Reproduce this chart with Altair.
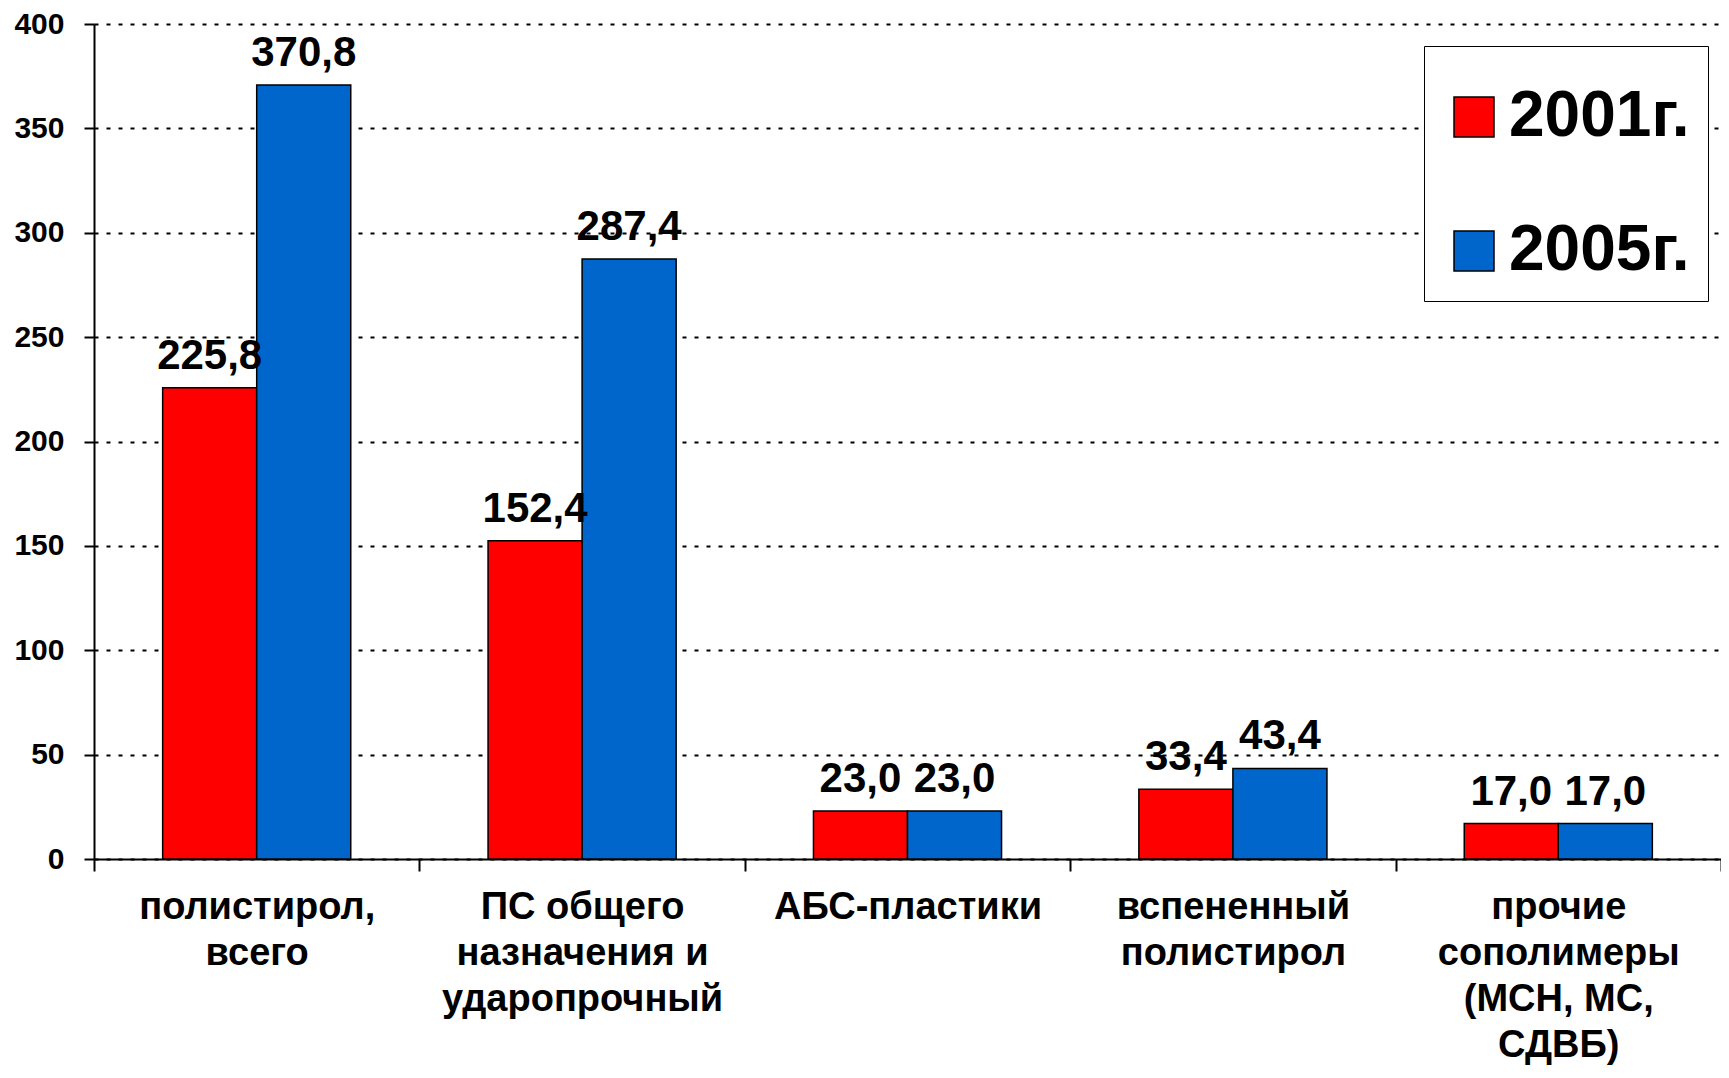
import altair as alt
import pandas as pd

categories = [
    "полистирол,|всего",
    "ПС общего|назначения и|ударопрочный",
    "АБС-пластики",
    "вспененный|полистирол",
    "прочие|сополимеры|(МСН, МС,|СДВБ)",
]
years = ["2001г.", "2005г."]
values_2001 = [225.8, 152.4, 23.0, 33.4, 17.0]
values_2005 = [370.8, 287.4, 23.0, 43.4, 17.0]
y_ticks = [0, 50, 100, 150, 200, 250, 300, 350, 400]
colors = ["#FF0000", "#0066CC"]

rows = []
for cat, v1, v2 in zip(categories, values_2001, values_2005):
    for yr, v in zip(years, (v1, v2)):
        rows.append({"category": cat, "year": yr, "value": v,
                     "label": f"{v:.1f}".replace(".", ",")})
df = pd.DataFrame(rows)

FONT = "Liberation Sans"

x_enc = alt.X(
    "category:N", sort=categories, title=None,
    scale=alt.Scale(paddingInner=0, paddingOuter=0),
    axis=alt.Axis(
        labelExpr="split(datum.label, '|')", labelAngle=0, labelFontSize=38,
        labelFontWeight="bold", labelFont=FONT, labelColor="black",
        labelLineHeight=46, labelPadding=17, labelLimit=0, labelOverlap=False,
        tickBand="extent", tickSize=12, tickWidth=2, tickColor="black",
        domainColor="black", domainWidth=2, grid=False,
    ),
)
xo_enc = alt.XOffset("year:N", sort=years,
                     scale=alt.Scale(paddingInner=0, paddingOuter=0.73))
y_enc = alt.Y(
    "value:Q", title=None,
    scale=alt.Scale(domain=[0, 400], nice=False),
    axis=alt.Axis(
        values=y_ticks, labelFontSize=30, labelFontWeight="bold", labelFont=FONT,
        labelColor="black", labelPadding=20, tickSize=10, tickWidth=2,
        tickColor="black", domainColor="black", domainWidth=2,
        grid=True, gridColor="black", gridWidth=2, gridDash=[4, 8],
    ),
)

bars = alt.Chart(df).mark_bar(stroke="black", strokeWidth=1.5).encode(
    x=x_enc, xOffset=xo_enc, y=y_enc,
    color=alt.Color(
        "year:N", sort=years,
        scale=alt.Scale(domain=years, range=colors),
        legend=alt.Legend(
            title=" ", titleFontSize=1, titlePadding=20,
            orient="none", legendX=1330, legendY=22,
            symbolType="square", symbolSize=1600, symbolStrokeColor="black",
            symbolStrokeWidth=1.5, labelFontSize=64, labelFont=FONT,
            labelFontWeight="bold", labelColor="black", labelOffset=3,
            labelLimit=0, rowPadding=70, padding=18, strokeColor="black",
            fillColor="white",
        ),
    ),
)

texts = alt.Chart(df).mark_text(
    baseline="bottom", dy=-10, fontSize=42, fontWeight="bold", font=FONT,
    color="black",
).encode(x=alt.X("category:N", sort=categories), xOffset=xo_enc,
         y="value:Q", text="label:N")

chart = (
    alt.layer(bars, texts)
    .properties(
        width=1627, height=835,
        autosize=alt.AutoSizeParams(type="none"),
        padding={"left": 86, "top": 16, "right": 0, "bottom": 207},
        background="white",
    )
    .configure_view(strokeWidth=0)
)

chart.save("out.html", embed_options={"renderer": "svg", "actions": False})
